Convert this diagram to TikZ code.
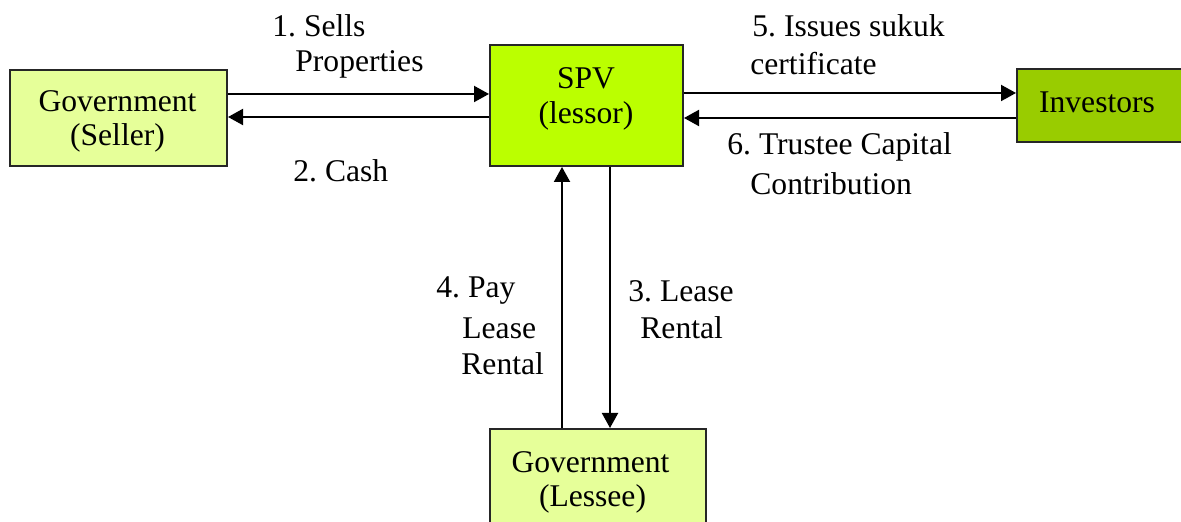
\documentclass[tikz,border=0pt]{standalone}
\usepackage{fontspec}
\setmainfont{Liberation Serif}
\usetikzlibrary{arrows.meta}
\frenchspacing
\definecolor{paleGreen}{HTML}{E6FF99}
\definecolor{limeGreen}{HTML}{BBFF00}
\definecolor{oliveGreen}{HTML}{99CC00}
\tikzset{
  box/.style={draw=black!85, line width=1pt, inner sep=0pt},
  lbl/.style={anchor=west, inner sep=0pt, font=\fontsize{15.8}{19}\selectfont},
  ctr/.style={inner sep=0pt, font=\fontsize{15.8}{19}\selectfont},
  arr/.style={line width=1pt, -{Triangle[length=7.5pt,width=8pt]}}
}
\begin{document}
\begin{tikzpicture}[x=0.5pt,y=-0.5pt]
\useasboundingbox (0,0) rectangle (1181,522);
% boxes
\node[box, fill=paleGreen, minimum width=108.5pt, minimum height=48pt] (seller) at (118.5,118) {};
\node[box, fill=limeGreen, minimum width=96.5pt, minimum height=60.5pt] (spv) at (586.5,105.5) {};
\node[box, fill=oliveGreen, minimum width=85pt, minimum height=36.5pt] (inv) at (1102,105.5) {};
\node[box, fill=paleGreen, minimum width=108pt, minimum height=55pt] (lessee) at (598,484) {};
% box texts
\node[ctr] (sellerA) at (117.5,101) {Government};
\node[ctr] (sellerB) at (117.5,138) {(Seller)};
\node[ctr] (spvA) at (586,78) {SPV};
\node[ctr] (spvB) at (586,116) {(lessor)};
\node[ctr] (invA) at (1097,102) {Investors};
\node[ctr] (lesA) at (590.5,462) {Government};
\node[ctr] (lesB) at (592.5,499) {(Lessee)};
% connectors
\draw[arr] (seller.east |- 0,94) -- (spv.west |- 0,94);
\draw[arr] (spv.west |- 0,117) -- (seller.east |- 0,117);
\draw[arr] (spv.east |- 0,93) -- (inv.west |- 0,93);
\draw[arr] (inv.west |- 0,118) -- (spv.east |- 0,118);
\draw[arr] (lessee.north -| 562,0) -- (spv.south -| 562,0);
\draw[arr] (spv.south -| 610,0) -- (lessee.north -| 610,0);
% connector labels
\node[lbl] (l1a) at (272,26) {1. Sells};
\node[lbl] (l1b) at (295,64) {Properties};
\node[lbl] (l2) at (293,171) {2. Cash};
\node[lbl] (l5a) at (752,26) {5. Issues sukuk};
\node[lbl] (l5b) at (750,64) {certificate};
\node[lbl] (l6a) at (727,147) {6. Trustee Capital};
\node[lbl] (l6b) at (750,184) {Contribution};
\node[lbl] (l4a) at (436,291) {4. Pay};
\node[lbl] (l4b) at (462,328) {Lease};
\node[lbl] (l4c) at (461,364) {Rental};
\node[lbl] (l3a) at (628,291) {3. Lease};
\node[lbl] (l3b) at (640,328) {Rental};
\end{tikzpicture}
\end{document}
